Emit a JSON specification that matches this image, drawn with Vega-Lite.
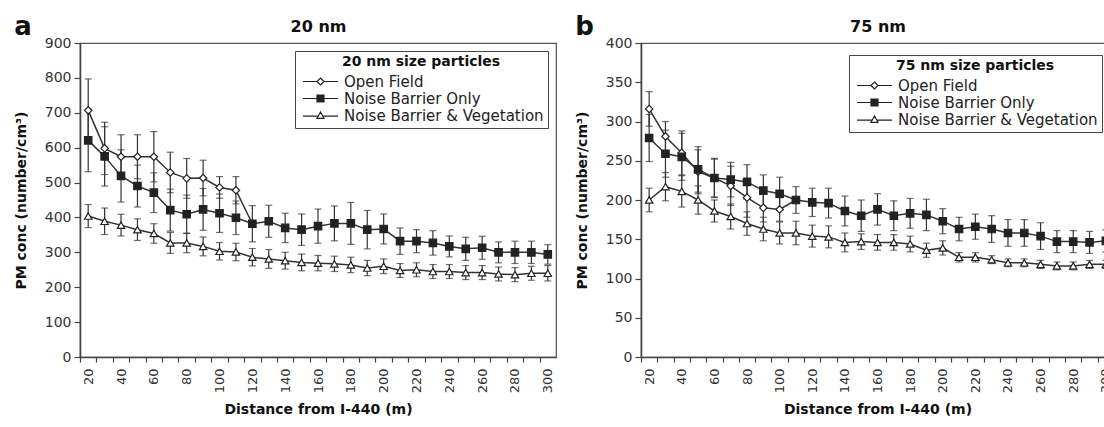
{
  "$schema": "https://vega.github.io/schema/vega-lite/v6.json",
  "background": "white",
  "padding": {"left": 13, "top": 13, "right": 0, "bottom": 0},
  "spacing": 17,
  "resolve": {"scale": {"shape": "independent", "fill": "independent"}, "legend": {"shape": "independent", "fill": "independent"}},
  "config": {
    "font": "DejaVu Sans",
    "view": {"stroke": "#555", "strokeWidth": 1.2},
    "axis": {"labelFont": "DejaVu Sans", "labelFontSize": 14, "labelColor": "#333", "titleFont": "DejaVu Sans", "titleFontSize": 14, "titleFontWeight": "bold", "titleColor": "#111", "domainColor": "#444", "domainWidth": 1.6, "tickColor": "#444", "tickWidth": 1.2, "grid": false},
    "legend": {"labelFont": "DejaVu Sans", "titleFont": "DejaVu Sans"}
  },
  "datasets": {
    "a": [
      {"s":"Open Field","d":20,"v":707,"e":90},{"s":"Open Field","d":30,"v":598,"e":75},{"s":"Open Field","d":40,"v":574,"e":63},{"s":"Open Field","d":50,"v":574,"e":63},{"s":"Open Field","d":60,"v":574,"e":72},{"s":"Open Field","d":70,"v":529,"e":58},{"s":"Open Field","d":80,"v":512,"e":57},{"s":"Open Field","d":90,"v":513,"e":51},{"s":"Open Field","d":100,"v":486,"e":31},{"s":"Open Field","d":110,"v":478,"e":39},{"s":"Open Field","d":120,"v":382,"e":null},
      {"s":"Noise Barrier Only","d":20,"v":621,"e":90},{"s":"Noise Barrier Only","d":30,"v":575,"e":85},{"s":"Noise Barrier Only","d":40,"v":519,"e":75},{"s":"Noise Barrier Only","d":50,"v":490,"e":60},{"s":"Noise Barrier Only","d":60,"v":471,"e":57},{"s":"Noise Barrier Only","d":70,"v":421,"e":60},{"s":"Noise Barrier Only","d":80,"v":409,"e":55},{"s":"Noise Barrier Only","d":90,"v":423,"e":60},{"s":"Noise Barrier Only","d":100,"v":412,"e":55},{"s":"Noise Barrier Only","d":110,"v":399,"e":48},{"s":"Noise Barrier Only","d":120,"v":382,"e":52},{"s":"Noise Barrier Only","d":130,"v":389,"e":46},{"s":"Noise Barrier Only","d":140,"v":370,"e":42},{"s":"Noise Barrier Only","d":150,"v":365,"e":45},{"s":"Noise Barrier Only","d":160,"v":375,"e":49},{"s":"Noise Barrier Only","d":170,"v":383,"e":50},{"s":"Noise Barrier Only","d":180,"v":383,"e":60},{"s":"Noise Barrier Only","d":190,"v":365,"e":55},{"s":"Noise Barrier Only","d":200,"v":367,"e":43},{"s":"Noise Barrier Only","d":210,"v":332,"e":38},{"s":"Noise Barrier Only","d":220,"v":332,"e":33},{"s":"Noise Barrier Only","d":230,"v":327,"e":35},{"s":"Noise Barrier Only","d":240,"v":317,"e":30},{"s":"Noise Barrier Only","d":250,"v":310,"e":33},{"s":"Noise Barrier Only","d":260,"v":313,"e":33},{"s":"Noise Barrier Only","d":270,"v":300,"e":30},{"s":"Noise Barrier Only","d":280,"v":300,"e":32},{"s":"Noise Barrier Only","d":290,"v":300,"e":32},{"s":"Noise Barrier Only","d":300,"v":294,"e":28},
      {"s":"Noise Barrier & Vegetation","d":20,"v":404,"e":33},{"s":"Noise Barrier & Vegetation","d":30,"v":389,"e":38},{"s":"Noise Barrier & Vegetation","d":40,"v":378,"e":31},{"s":"Noise Barrier & Vegetation","d":50,"v":365,"e":31},{"s":"Noise Barrier & Vegetation","d":60,"v":354,"e":28},{"s":"Noise Barrier & Vegetation","d":70,"v":327,"e":30},{"s":"Noise Barrier & Vegetation","d":80,"v":327,"e":28},{"s":"Noise Barrier & Vegetation","d":90,"v":317,"e":27},{"s":"Noise Barrier & Vegetation","d":100,"v":303,"e":25},{"s":"Noise Barrier & Vegetation","d":110,"v":301,"e":25},{"s":"Noise Barrier & Vegetation","d":120,"v":286,"e":25},{"s":"Noise Barrier & Vegetation","d":130,"v":281,"e":27},{"s":"Noise Barrier & Vegetation","d":140,"v":276,"e":24},{"s":"Noise Barrier & Vegetation","d":150,"v":271,"e":24},{"s":"Noise Barrier & Vegetation","d":160,"v":269,"e":22},{"s":"Noise Barrier & Vegetation","d":170,"v":267,"e":22},{"s":"Noise Barrier & Vegetation","d":180,"v":264,"e":22},{"s":"Noise Barrier & Vegetation","d":190,"v":255,"e":22},{"s":"Noise Barrier & Vegetation","d":200,"v":260,"e":21},{"s":"Noise Barrier & Vegetation","d":210,"v":248,"e":20},{"s":"Noise Barrier & Vegetation","d":220,"v":250,"e":20},{"s":"Noise Barrier & Vegetation","d":230,"v":245,"e":20},{"s":"Noise Barrier & Vegetation","d":240,"v":245,"e":20},{"s":"Noise Barrier & Vegetation","d":250,"v":242,"e":20},{"s":"Noise Barrier & Vegetation","d":260,"v":242,"e":20},{"s":"Noise Barrier & Vegetation","d":270,"v":238,"e":20},{"s":"Noise Barrier & Vegetation","d":280,"v":236,"e":20},{"s":"Noise Barrier & Vegetation","d":290,"v":240,"e":20},{"s":"Noise Barrier & Vegetation","d":300,"v":240,"e":22}
    ],
    "b": [
      {"s":"Open Field","d":20,"v":316,"e":22},{"s":"Open Field","d":30,"v":281,"e":19},{"s":"Open Field","d":40,"v":260,"e":28},{"s":"Open Field","d":50,"v":236,"e":28},{"s":"Open Field","d":60,"v":228,"e":25},{"s":"Open Field","d":70,"v":218,"e":25},{"s":"Open Field","d":80,"v":203,"e":25},{"s":"Open Field","d":90,"v":190,"e":18},{"s":"Open Field","d":100,"v":188,"e":15},{"s":"Open Field","d":110,"v":200,"e":null},
      {"s":"Noise Barrier Only","d":20,"v":279,"e":30},{"s":"Noise Barrier Only","d":30,"v":259,"e":30},{"s":"Noise Barrier Only","d":40,"v":255,"e":30},{"s":"Noise Barrier Only","d":50,"v":239,"e":29},{"s":"Noise Barrier Only","d":60,"v":228,"e":24},{"s":"Noise Barrier Only","d":70,"v":226,"e":22},{"s":"Noise Barrier Only","d":80,"v":223,"e":22},{"s":"Noise Barrier Only","d":90,"v":212,"e":20},{"s":"Noise Barrier Only","d":100,"v":208,"e":21},{"s":"Noise Barrier Only","d":110,"v":200,"e":17},{"s":"Noise Barrier Only","d":120,"v":197,"e":18},{"s":"Noise Barrier Only","d":130,"v":196,"e":19},{"s":"Noise Barrier Only","d":140,"v":186,"e":19},{"s":"Noise Barrier Only","d":150,"v":180,"e":20},{"s":"Noise Barrier Only","d":160,"v":188,"e":20},{"s":"Noise Barrier Only","d":170,"v":180,"e":19},{"s":"Noise Barrier Only","d":180,"v":183,"e":19},{"s":"Noise Barrier Only","d":190,"v":181,"e":20},{"s":"Noise Barrier Only","d":200,"v":173,"e":16},{"s":"Noise Barrier Only","d":210,"v":163,"e":15},{"s":"Noise Barrier Only","d":220,"v":166,"e":16},{"s":"Noise Barrier Only","d":230,"v":163,"e":17},{"s":"Noise Barrier Only","d":240,"v":158,"e":17},{"s":"Noise Barrier Only","d":250,"v":158,"e":17},{"s":"Noise Barrier Only","d":260,"v":154,"e":17},{"s":"Noise Barrier Only","d":270,"v":147,"e":14},{"s":"Noise Barrier Only","d":280,"v":147,"e":14},{"s":"Noise Barrier Only","d":290,"v":146,"e":14},{"s":"Noise Barrier Only","d":300,"v":148,"e":14},
      {"s":"Noise Barrier & Vegetation","d":20,"v":200,"e":15},{"s":"Noise Barrier & Vegetation","d":30,"v":217,"e":18},{"s":"Noise Barrier & Vegetation","d":40,"v":211,"e":20},{"s":"Noise Barrier & Vegetation","d":50,"v":200,"e":18},{"s":"Noise Barrier & Vegetation","d":60,"v":186,"e":14},{"s":"Noise Barrier & Vegetation","d":70,"v":179,"e":16},{"s":"Noise Barrier & Vegetation","d":80,"v":170,"e":15},{"s":"Noise Barrier & Vegetation","d":90,"v":163,"e":15},{"s":"Noise Barrier & Vegetation","d":100,"v":158,"e":14},{"s":"Noise Barrier & Vegetation","d":110,"v":158,"e":15},{"s":"Noise Barrier & Vegetation","d":120,"v":154,"e":14},{"s":"Noise Barrier & Vegetation","d":130,"v":153,"e":14},{"s":"Noise Barrier & Vegetation","d":140,"v":146,"e":12},{"s":"Noise Barrier & Vegetation","d":150,"v":147,"e":10},{"s":"Noise Barrier & Vegetation","d":160,"v":146,"e":10},{"s":"Noise Barrier & Vegetation","d":170,"v":146,"e":10},{"s":"Noise Barrier & Vegetation","d":180,"v":144,"e":10},{"s":"Noise Barrier & Vegetation","d":190,"v":136,"e":9},{"s":"Noise Barrier & Vegetation","d":200,"v":139,"e":9},{"s":"Noise Barrier & Vegetation","d":210,"v":127,"e":6},{"s":"Noise Barrier & Vegetation","d":220,"v":127,"e":6},{"s":"Noise Barrier & Vegetation","d":230,"v":124,"e":5},{"s":"Noise Barrier & Vegetation","d":240,"v":120,"e":5},{"s":"Noise Barrier & Vegetation","d":250,"v":120,"e":5},{"s":"Noise Barrier & Vegetation","d":260,"v":118,"e":5},{"s":"Noise Barrier & Vegetation","d":270,"v":116,"e":5},{"s":"Noise Barrier & Vegetation","d":280,"v":116,"e":5},{"s":"Noise Barrier & Vegetation","d":290,"v":118,"e":5},{"s":"Noise Barrier & Vegetation","d":300,"v":118,"e":5}
    ]
  },
  "hconcat": [
    {
      "width": 476, "height": 314,
      "data": {"name": "a"},
      "title": {"text": "a", "anchor": "start", "frame": "bounds", "fontSize": 26, "fontWeight": "bold", "color": "#111", "font": "DejaVu Sans", "dy": 26},
      "layer": [
        {
          "transform": [{"filter": "isValid(datum.e)"}],
          "mark": {"type": "errorbar", "ticks": {"size": 7}, "thickness": 1.2, "color": "#333"},
          "encoding": {
            "x": {"field": "d", "type": "quantitative", "scale": {"domain": [15, 305], "nice": false, "zero": false},
                  "axis": {"orient": "bottom", "title": "Distance from I-440 (m)", "values": [20,30,40,50,60,70,80,90,100,110,120,130,140,150,160,170,180,190,200,210,220,230,240,250,260,270,280,290,300], "tickOffset": -8.2, "labelOffset": 8.2, "labelExpr": "datum.value % 20 === 0 ? datum.label : ''", "labelAngle": -90, "labelFontSize": 13, "tickSize": 5, "labelPadding": 6, "titlePadding": 10, "labelFlush": false, "labelOverlap": false}},
            "y": {"field": "v", "type": "quantitative", "scale": {"domain": [0, 900], "nice": false},
                  "axis": {"title": "PM conc (number/cm³)", "values": [0,100,200,300,400,500,600,700,800,900], "tickSize": 6, "labelPadding": 3, "titlePadding": 16}},
            "yError": {"field": "e"}
          }
        },
        {
          "mark": {"type": "line", "color": "#333", "strokeWidth": 1.5},
          "encoding": {
            "x": {"field": "d", "type": "quantitative", "scale": {"domain": [15, 305], "nice": false, "zero": false},
                  "axis": {"orient": "top", "title": "20 nm", "titleFontSize": 16, "titlePadding": 9, "domain": false, "ticks": false, "labels": false}},
            "y": {"field": "v", "type": "quantitative", "scale": {"domain": [0, 900], "nice": false},
                  "axis": {"title": "PM conc (number/cm³)", "values": [0,100,200,300,400,500,600,700,800,900], "tickSize": 6, "labelPadding": 3, "titlePadding": 16}},
            "detail": {"field": "s"}
          }
        },
        {
          "mark": {"type": "point", "filled": false, "color": "#222", "strokeWidth": 1.2, "size": 55, "opacity": 1},
          "encoding": {
            "x": {"field": "d", "type": "quantitative", "scale": {"domain": [15, 305], "nice": false, "zero": false}, "axis": null},
            "y": {"field": "v", "type": "quantitative", "scale": {"domain": [0, 900], "nice": false},
                  "axis": {"title": "PM conc (number/cm³)", "values": [0,100,200,300,400,500,600,700,800,900], "tickSize": 6, "labelPadding": 3, "titlePadding": 16}},
            "shape": {"field": "s", "type": "nominal",
                      "scale": {"domain": ["Open Field", "Noise Barrier Only", "Noise Barrier & Vegetation"], "range": ["diamond", "square", "triangle-up"]}, "legend": null},
            "fill": {"field": "s", "type": "nominal",
                     "scale": {"domain": ["Open Field", "Noise Barrier Only", "Noise Barrier & Vegetation"], "range": ["white", "#222", "white"]}, "legend": null}
          }
        },
        {
          "transform": [{"filter": "datum.d < 0"}],
          "mark": {"type": "point", "filled": false, "color": "#222", "strokeWidth": 1.2, "size": 49, "opacity": 1},
          "encoding": {
            "x": {"field": "d", "type": "quantitative", "scale": {"domain": [15, 305], "nice": false, "zero": false}, "axis": null},
            "y": {"field": "v", "type": "quantitative", "scale": {"domain": [0, 900], "nice": false},
                  "axis": {"title": "PM conc (number/cm³)", "values": [0,100,200,300,400,500,600,700,800,900], "tickSize": 6, "labelPadding": 3, "titlePadding": 16}},
            "shape": {"field": "s", "type": "nominal", "title": "20 nm size particles",
                      "scale": {"domain": ["Open Field", "Noise Barrier Only", "Noise Barrier & Vegetation"], "range": ["M-1,0H3M5,0H9M4,-1L5,0L4,1L3,0Z", "M-1,0H3M5,0H9M3,-1H5V1H3Z", "M-1,0.2H3.34M4.66,0.2H9M4,-1L5,0.8L3,0.8Z"]},
                      "legend": {"title": "20 nm size particles", "orient": "top-right", "offset": 8, "titleFontSize": 14, "titleFontWeight": "bold", "titleColor": "#111", "titleAnchor": "middle", "labelFontSize": 15, "labelColor": "#222", "labelLimit": 300, "strokeColor": "#444", "fillColor": "white", "padding": 4, "rowPadding": 1, "symbolSize": 49, "symbolStrokeWidth": 1.2, "labelOffset": 30,
                                 "encode": {"symbols": {"update": {"stroke": {"signal": "'#222222'"}, "strokeWidth": {"signal": "1.2"}, "strokeOpacity": {"signal": "1"}, "fill": {"signal": "datum.value === 'Noise Barrier Only' ? '#222' : 'white'"}}}}}},
            "fill": {"field": "s", "type": "nominal", "title": "20 nm size particles",
                     "scale": {"domain": ["Open Field", "Noise Barrier Only", "Noise Barrier & Vegetation"], "range": ["white", "#222", "white"]},
                     "legend": {"title": "20 nm size particles", "orient": "top-right", "offset": 8, "titleFontSize": 14, "titleFontWeight": "bold", "titleColor": "#111", "titleAnchor": "middle", "labelFontSize": 15, "labelColor": "#222", "labelLimit": 300, "strokeColor": "#444", "fillColor": "white", "padding": 4, "rowPadding": 1, "symbolSize": 49, "symbolStrokeWidth": 1.2, "labelOffset": 30,
                                 "encode": {"symbols": {"update": {"stroke": {"signal": "'#222222'"}, "strokeWidth": {"signal": "1.2"}, "strokeOpacity": {"signal": "1"}, "fill": {"signal": "datum.value === 'Noise Barrier Only' ? '#222' : 'white'"}}}}}}
          }
        }
      ],
      "resolve": {"axis": {"x": "independent"}, "scale": {"shape": "independent", "fill": "independent"}}
    },
    {
      "width": 473, "height": 314,
      "data": {"name": "b"},
      "title": {"text": "b", "anchor": "start", "frame": "bounds", "fontSize": 26, "fontWeight": "bold", "color": "#111", "font": "DejaVu Sans", "dy": 26},
      "layer": [
        {
          "transform": [{"filter": "isValid(datum.e)"}],
          "mark": {"type": "errorbar", "ticks": {"size": 7}, "thickness": 1.2, "color": "#333"},
          "encoding": {
            "x": {"field": "d", "type": "quantitative", "scale": {"domain": [15, 305], "nice": false, "zero": false},
                  "axis": {"orient": "bottom", "title": "Distance from I-440 (m)", "values": [20,30,40,50,60,70,80,90,100,110,120,130,140,150,160,170,180,190,200,210,220,230,240,250,260,270,280,290,300], "tickOffset": -8.15, "labelOffset": 8.15, "labelExpr": "datum.value % 20 === 0 ? datum.label : ''", "labelAngle": -90, "labelFontSize": 13, "tickSize": 5, "labelPadding": 6, "titlePadding": 10, "labelFlush": false, "labelOverlap": false}},
            "y": {"field": "v", "type": "quantitative", "scale": {"domain": [0, 400], "nice": false},
                  "axis": {"title": "PM conc (number/cm³)", "values": [0,50,100,150,200,250,300,350,400], "tickSize": 6, "labelPadding": 3, "titlePadding": 16}},
            "yError": {"field": "e"}
          }
        },
        {
          "mark": {"type": "line", "color": "#333", "strokeWidth": 1.5},
          "encoding": {
            "x": {"field": "d", "type": "quantitative", "scale": {"domain": [15, 305], "nice": false, "zero": false},
                  "axis": {"orient": "top", "title": "75 nm", "titleFontSize": 16, "titlePadding": 9, "domain": false, "ticks": false, "labels": false}},
            "y": {"field": "v", "type": "quantitative", "scale": {"domain": [0, 400], "nice": false},
                  "axis": {"title": "PM conc (number/cm³)", "values": [0,50,100,150,200,250,300,350,400], "tickSize": 6, "labelPadding": 3, "titlePadding": 16}},
            "detail": {"field": "s"}
          }
        },
        {
          "mark": {"type": "point", "filled": false, "color": "#222", "strokeWidth": 1.2, "size": 55, "opacity": 1},
          "encoding": {
            "x": {"field": "d", "type": "quantitative", "scale": {"domain": [15, 305], "nice": false, "zero": false}, "axis": null},
            "y": {"field": "v", "type": "quantitative", "scale": {"domain": [0, 400], "nice": false},
                  "axis": {"title": "PM conc (number/cm³)", "values": [0,50,100,150,200,250,300,350,400], "tickSize": 6, "labelPadding": 3, "titlePadding": 16}},
            "shape": {"field": "s", "type": "nominal",
                      "scale": {"domain": ["Open Field", "Noise Barrier Only", "Noise Barrier & Vegetation"], "range": ["diamond", "square", "triangle-up"]}, "legend": null},
            "fill": {"field": "s", "type": "nominal",
                     "scale": {"domain": ["Open Field", "Noise Barrier Only", "Noise Barrier & Vegetation"], "range": ["white", "#222", "white"]}, "legend": null}
          }
        },
        {
          "transform": [{"filter": "datum.d < 0"}],
          "mark": {"type": "point", "filled": false, "color": "#222", "strokeWidth": 1.2, "size": 49, "opacity": 1},
          "encoding": {
            "x": {"field": "d", "type": "quantitative", "scale": {"domain": [15, 305], "nice": false, "zero": false}, "axis": null},
            "y": {"field": "v", "type": "quantitative", "scale": {"domain": [0, 400], "nice": false},
                  "axis": {"title": "PM conc (number/cm³)", "values": [0,50,100,150,200,250,300,350,400], "tickSize": 6, "labelPadding": 3, "titlePadding": 16}},
            "shape": {"field": "s", "type": "nominal", "title": "75 nm size particles",
                      "scale": {"domain": ["Open Field", "Noise Barrier Only", "Noise Barrier & Vegetation"], "range": ["M-1,0H3M5,0H9M4,-1L5,0L4,1L3,0Z", "M-1,0H3M5,0H9M3,-1H5V1H3Z", "M-1,0.2H3.34M4.66,0.2H9M4,-1L5,0.8L3,0.8Z"]},
                      "legend": {"title": "75 nm size particles", "orient": "top-right", "offset": 12, "titleFontSize": 14, "titleFontWeight": "bold", "titleColor": "#111", "titleAnchor": "middle", "labelFontSize": 15, "labelColor": "#222", "labelLimit": 300, "strokeColor": "#444", "fillColor": "white", "padding": 4, "rowPadding": 1, "symbolSize": 49, "symbolStrokeWidth": 1.2, "labelOffset": 30,
                                 "encode": {"symbols": {"update": {"stroke": {"signal": "'#222222'"}, "strokeWidth": {"signal": "1.2"}, "strokeOpacity": {"signal": "1"}, "fill": {"signal": "datum.value === 'Noise Barrier Only' ? '#222' : 'white'"}}}}}},
            "fill": {"field": "s", "type": "nominal", "title": "75 nm size particles",
                     "scale": {"domain": ["Open Field", "Noise Barrier Only", "Noise Barrier & Vegetation"], "range": ["white", "#222", "white"]},
                     "legend": {"title": "75 nm size particles", "orient": "top-right", "offset": 12, "titleFontSize": 14, "titleFontWeight": "bold", "titleColor": "#111", "titleAnchor": "middle", "labelFontSize": 15, "labelColor": "#222", "labelLimit": 300, "strokeColor": "#444", "fillColor": "white", "padding": 4, "rowPadding": 1, "symbolSize": 49, "symbolStrokeWidth": 1.2, "labelOffset": 30,
                                 "encode": {"symbols": {"update": {"stroke": {"signal": "'#222222'"}, "strokeWidth": {"signal": "1.2"}, "strokeOpacity": {"signal": "1"}, "fill": {"signal": "datum.value === 'Noise Barrier Only' ? '#222' : 'white'"}}}}}}
          }
        }
      ],
      "resolve": {"axis": {"x": "independent"}, "scale": {"shape": "independent", "fill": "independent"}}
    }
  ]
}
